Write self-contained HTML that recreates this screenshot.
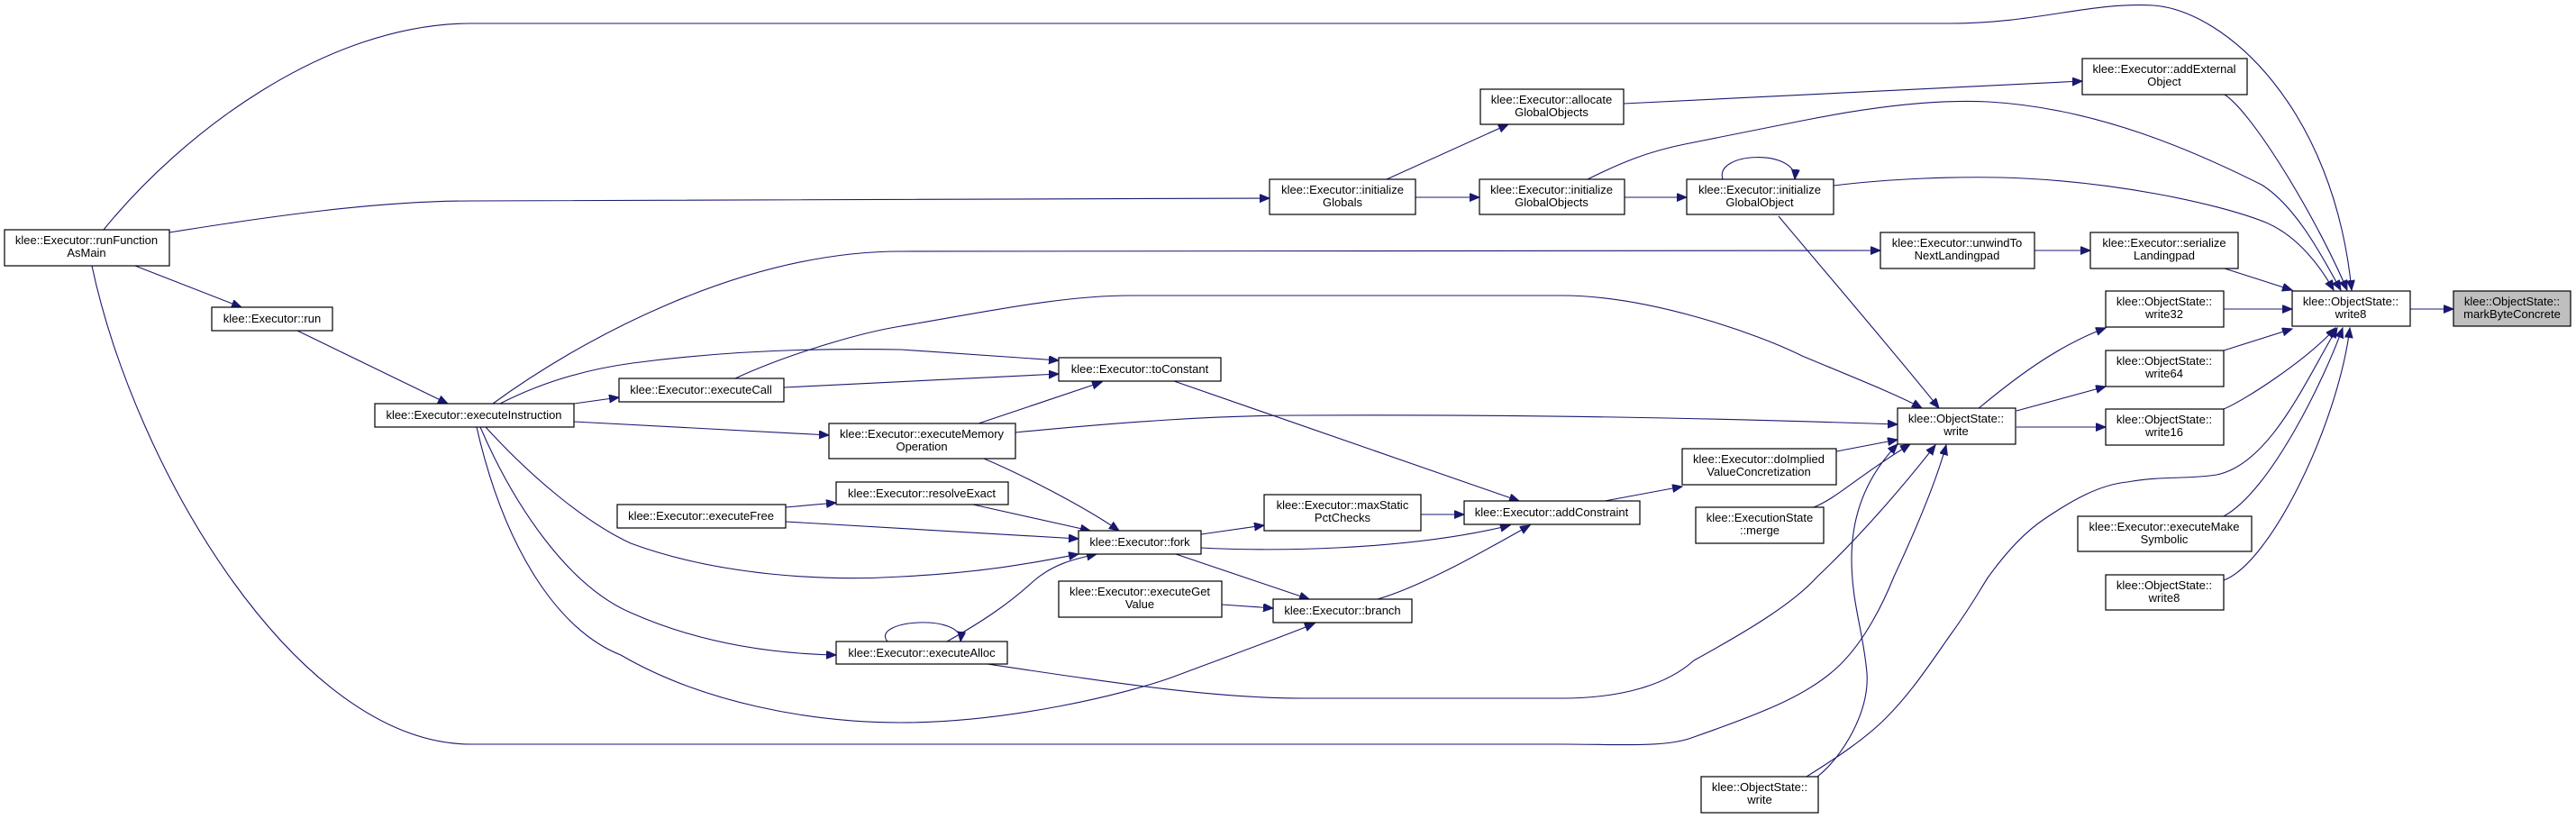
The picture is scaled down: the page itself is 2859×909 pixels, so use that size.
<!DOCTYPE html>
<html><head><meta charset="utf-8"><style>
html,body{margin:0;padding:0;background:#fff;}
svg{display:block;}
text{font-family:"Liberation Sans",Arial,sans-serif;font-size:13px;fill:#000;}
.e{fill:none;stroke:#191970;stroke-width:1.1;}
.n{fill:#fff;stroke:#000;stroke-width:1.2;}
</style></head><body>
<svg width="2859" height="909" viewBox="0 0 2859 909" xmlns="http://www.w3.org/2000/svg">
<defs>
<marker id="a" markerUnits="userSpaceOnUse" markerWidth="12" markerHeight="10" refX="11" refY="4.5" orient="auto">
<path d="M0,0 L11,4.5 L0,9 Z" fill="#191970" stroke="#191970"/>
</marker>
</defs>
<g class="e" marker-end="url(#a)">
<path d="M2675,343 L2723,343"/>
<path d="M2469,105 C2500,125 2570,240 2605,322"/>
<path d="M115,255 C200,150 360,26 523,26 L2164,26 C2260,26 2320,2 2390,6 C2470,12 2590,120 2610,322"/>
<path d="M1802,115 L2311,90"/>
<path d="M1762,199 C1800,180 1830,168 1870,160 L2000,134 C2080,118 2150,110 2207,113 C2330,120 2440,170 2510,205 C2550,230 2580,290 2598,322"/>
<path d="M2035,206 C2100,198 2170,196 2220,197 C2340,200 2460,225 2515,247 C2550,262 2575,295 2590,322"/>
<path d="M2469,298 L2544,322"/>
<path d="M2468,343 L2544,343"/>
<path d="M2468,389 L2544,365"/>
<path d="M2468,454 C2490,445 2560,400 2592,364"/>
<path d="M2468,573 C2520,545 2580,420 2600,364"/>
<path d="M2468,644 C2520,625 2595,470 2608,364"/>
<path d="M2005,862 C2040,840 2070,820 2093,797 C2120,770 2140,740 2163,707 C2190,670 2200,650 2207,640 C2225,615 2245,592 2269,576 C2300,555 2330,538 2361,535 C2400,528 2430,532 2460,527 C2520,515 2560,420 2594,364"/>
<path d="M2195,454 C2230,425 2280,385 2337,364"/>
<path d="M2238,456 L2337,429"/>
<path d="M2238,474 L2337,474"/>
<path d="M188,258 C300,240 420,223 523,223 L1409,220"/>
<path d="M150,295 L268,341"/>
<path d="M330,367 L497,448"/>
<path d="M1539,199 L1674,138"/>
<path d="M1571,219 L1642,219"/>
<path d="M1803,219 L1872,219"/>
<path d="M1912,199 C1902,168 1995,165 1992,199"/>
<path d="M1974,240 C2020,295 2110,400 2152,453"/>
<path d="M547,448 C640,380 820,279 1000,279 L2087,278"/>
<path d="M2258,278 L2320,278"/>
<path d="M555,448 C600,425 650,410 702,403 C800,390 900,386 1000,388 L1175,400"/>
<path d="M816,420 C870,395 950,370 1000,362 C1100,345 1180,328 1255,328 L1733,328 C1830,328 1950,370 2000,395 C2060,420 2110,440 2133,453"/>
<path d="M870,430 L1175,415"/>
<path d="M637,448 L687,441"/>
<path d="M637,468 L920,483"/>
<path d="M1086,470 L1223,424"/>
<path d="M1127,480 C1250,468 1350,461 1446,461 C1700,460 1900,464 2106,471"/>
<path d="M1092,509 C1130,525 1200,560 1242,589"/>
<path d="M1080,560 L1210,589"/>
<path d="M872,563 L928,558"/>
<path d="M872,579 L1197,598"/>
<path d="M539,474 C590,530 650,580 700,603 C800,640 920,645 1000,640 C1100,635 1160,622 1197,615"/>
<path d="M533,474 C570,560 630,650 700,680 C790,720 880,726 928,727"/>
<path d="M529,474 C560,610 620,700 689,727 C780,780 900,802 1000,802 C1120,802 1250,770 1300,752 C1380,722 1420,708 1459,692"/>
<path d="M985,712 C965,688 1070,680 1066,712"/>
<path d="M1051,712 C1090,690 1120,670 1147,645 C1170,625 1195,620 1217,615"/>
<path d="M1096,737 C1250,760 1350,775 1446,775 L1733,775 C1800,775 1850,760 1880,733 C1940,700 1990,670 2017,640 C2070,590 2120,530 2148,494"/>
<path d="M102,295 C150,520 330,826 523,826 L1733,826 C1800,826 1850,830 1880,818 C1960,790 2010,770 2043,737 C2070,710 2090,670 2102,640 C2130,580 2150,530 2160,494"/>
<path d="M1333,593 L1403,583"/>
<path d="M1333,608 C1400,612 1560,612 1676,583"/>
<path d="M1305,615 L1453,665"/>
<path d="M1577,571 L1625,571"/>
<path d="M1303,423 L1686,556"/>
<path d="M1529,665 C1580,650 1650,610 1698,583"/>
<path d="M1356,671 L1413,675"/>
<path d="M1781,556 L1867,540"/>
<path d="M2038,501 L2106,488"/>
<path d="M2013,563 C2040,552 2060,530 2120,493"/>
<path d="M2017,862 C2045,840 2075,790 2072,747 C2068,700 2055,670 2055,620 C2055,560 2080,520 2106,493"/>
</g>
<g>
<rect class="n" x="5" y="255" width="183" height="40"/><text x="96" y="271" text-anchor="middle">klee::Executor::runFunction</text><text x="96" y="285" text-anchor="middle">AsMain</text>
<rect class="n" x="235" y="341" width="134" height="26"/><text x="302" y="358" text-anchor="middle">klee::Executor::run</text>
<rect class="n" x="416" y="448" width="221" height="26"/><text x="526" y="465" text-anchor="middle">klee::Executor::executeInstruction</text>
<rect class="n" x="687" y="420" width="183" height="26"/><text x="778" y="437" text-anchor="middle">klee::Executor::executeCall</text>
<rect class="n" x="920" y="470" width="207" height="39"/><text x="1023" y="486" text-anchor="middle">klee::Executor::executeMemory</text><text x="1023" y="500" text-anchor="middle">Operation</text>
<rect class="n" x="685" y="560" width="187" height="26"/><text x="778" y="577" text-anchor="middle">klee::Executor::executeFree</text>
<rect class="n" x="928" y="535" width="191" height="25"/><text x="1023" y="552" text-anchor="middle">klee::Executor::resolveExact</text>
<rect class="n" x="928" y="712" width="190" height="25"/><text x="1023" y="729" text-anchor="middle">klee::Executor::executeAlloc</text>
<rect class="n" x="1643" y="99" width="159" height="39"/><text x="1722" y="115" text-anchor="middle">klee::Executor::allocate</text><text x="1722" y="129" text-anchor="middle">GlobalObjects</text>
<rect class="n" x="1409" y="199" width="162" height="39"/><text x="1490" y="215" text-anchor="middle">klee::Executor::initialize</text><text x="1490" y="229" text-anchor="middle">Globals</text>
<rect class="n" x="1642" y="199" width="161" height="39"/><text x="1722" y="215" text-anchor="middle">klee::Executor::initialize</text><text x="1722" y="229" text-anchor="middle">GlobalObjects</text>
<rect class="n" x="1872" y="199" width="163" height="39"/><text x="1953" y="215" text-anchor="middle">klee::Executor::initialize</text><text x="1953" y="229" text-anchor="middle">GlobalObject</text>
<rect class="n" x="1175" y="397" width="180" height="26"/><text x="1265" y="414" text-anchor="middle">klee::Executor::toConstant</text>
<rect class="n" x="1403" y="549" width="174" height="40"/><text x="1490" y="565" text-anchor="middle">klee::Executor::maxStatic</text><text x="1490" y="579" text-anchor="middle">PctChecks</text>
<rect class="n" x="1625" y="556" width="195" height="26"/><text x="1722" y="573" text-anchor="middle">klee::Executor::addConstraint</text>
<rect class="n" x="1197" y="589" width="136" height="26"/><text x="1265" y="606" text-anchor="middle">klee::Executor::fork</text>
<rect class="n" x="1175" y="645" width="181" height="40"/><text x="1265" y="661" text-anchor="middle">klee::Executor::executeGet</text><text x="1265" y="675" text-anchor="middle">Value</text>
<rect class="n" x="1413" y="665" width="154" height="26"/><text x="1490" y="682" text-anchor="middle">klee::Executor::branch</text>
<rect class="n" x="1867" y="498" width="171" height="40"/><text x="1952" y="514" text-anchor="middle">klee::Executor::doImplied</text><text x="1952" y="528" text-anchor="middle">ValueConcretization</text>
<rect class="n" x="1882" y="563" width="142" height="40"/><text x="1953" y="579" text-anchor="middle">klee::ExecutionState</text><text x="1953" y="593" text-anchor="middle">::merge</text>
<rect class="n" x="1888" y="862" width="130" height="40"/><text x="1953" y="878" text-anchor="middle">klee::ObjectState::</text><text x="1953" y="892" text-anchor="middle">write</text>
<rect class="n" x="2311" y="65" width="183" height="40"/><text x="2402" y="81" text-anchor="middle">klee::Executor::addExternal</text><text x="2402" y="95" text-anchor="middle">Object</text>
<rect class="n" x="2087" y="258" width="171" height="40"/><text x="2172" y="274" text-anchor="middle">klee::Executor::unwindTo</text><text x="2172" y="288" text-anchor="middle">NextLandingpad</text>
<rect class="n" x="2320" y="258" width="164" height="40"/><text x="2402" y="274" text-anchor="middle">klee::Executor::serialize</text><text x="2402" y="288" text-anchor="middle">Landingpad</text>
<rect class="n" x="2337" y="323" width="131" height="40"/><text x="2402" y="339" text-anchor="middle">klee::ObjectState::</text><text x="2402" y="353" text-anchor="middle">write32</text>
<rect class="n" x="2337" y="389" width="131" height="40"/><text x="2402" y="405" text-anchor="middle">klee::ObjectState::</text><text x="2402" y="419" text-anchor="middle">write64</text>
<rect class="n" x="2337" y="454" width="131" height="40"/><text x="2402" y="470" text-anchor="middle">klee::ObjectState::</text><text x="2402" y="484" text-anchor="middle">write16</text>
<rect class="n" x="2106" y="453" width="131" height="40"/><text x="2171" y="469" text-anchor="middle">klee::ObjectState::</text><text x="2171" y="483" text-anchor="middle">write</text>
<rect class="n" x="2306" y="573" width="193" height="39"/><text x="2402" y="589" text-anchor="middle">klee::Executor::executeMake</text><text x="2402" y="603" text-anchor="middle">Symbolic</text>
<rect class="n" x="2337" y="638" width="131" height="39"/><text x="2402" y="654" text-anchor="middle">klee::ObjectState::</text><text x="2402" y="668" text-anchor="middle">write8</text>
<rect class="n" x="2544" y="323" width="131" height="39"/><text x="2609" y="339" text-anchor="middle">klee::ObjectState::</text><text x="2609" y="353" text-anchor="middle">write8</text>
<rect x="2723" y="323" width="130" height="39" fill="#bfbfbf" stroke="#000" stroke-width="1.2"/><text x="2788" y="339" text-anchor="middle">klee::ObjectState::</text><text x="2788" y="353" text-anchor="middle">markByteConcrete</text>
</g>
</svg>
</body></html>
